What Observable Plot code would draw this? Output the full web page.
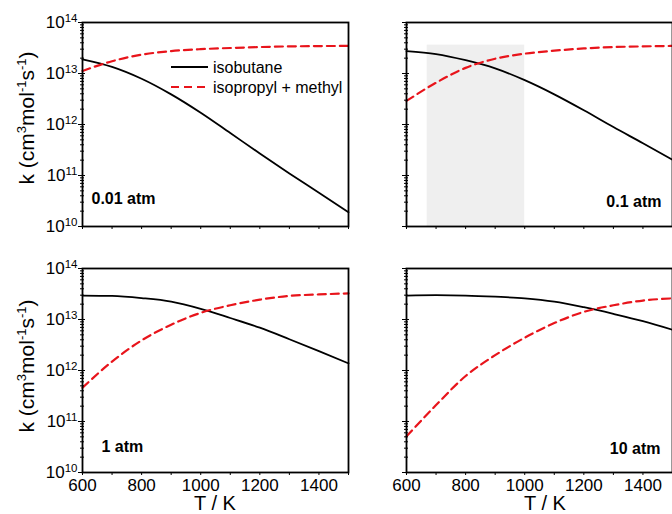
<!DOCTYPE html>
<html>
<head>
<meta charset="utf-8">
<script src="https://cdn.jsdelivr.net/npm/d3@7"></script>
<script src="https://cdn.jsdelivr.net/npm/@observablehq/plot@0.6"></script>
<style>
  html, body { margin: 0; padding: 0; background: #fff; overflow: hidden; }
  #wrap { position: relative; width: 672px; height: 514px; overflow: hidden; background: #fff;
          font-family: "Liberation Sans", Arial, sans-serif; }
  #wrap > .panel { position: absolute; }
  #overlay { position: absolute; left: 0; top: 0; pointer-events: none; }
</style>
</head>
<body>
<div id="wrap"></div>
<script>
// ---- data ----
const temps = [600, 700, 800, 900, 1000, 1100, 1200, 1300, 1400, 1500];

const isobutane_001 = [1.9e13, 1.35e13, 7.9e12, 3.9e12, 1.7e12, 6.8e11, 2.7e11, 1.1e11, 4.6e10, 1.9e10];
const isopropyl_001 = [1.12e13, 1.74e13, 2.34e13, 2.75e13, 3.0e13, 3.16e13, 3.3e13, 3.4e13, 3.45e13, 3.47e13];

const isobutane_01 = [2.75e13, 2.4e13, 1.82e13, 1.26e13, 7.4e12, 3.9e12, 1.9e12, 8.9e11, 4.3e11, 2.04e11];
const isopropyl_01 = [2.9e12, 6.6e12, 1.29e13, 1.95e13, 2.45e13, 2.8e13, 3.1e13, 3.3e13, 3.4e13, 3.47e13];

const isobutane_1 = [2.95e13, 2.9e13, 2.63e13, 2.24e13, 1.62e13, 1.07e13, 6.9e12, 4.1e12, 2.4e12, 1.38e12];
const isopropyl_1 = [4.6e11, 1.5e12, 3.9e12, 7.9e12, 1.35e13, 1.9e13, 2.45e13, 2.9e13, 3.1e13, 3.25e13];

const isobutane_10 = [2.95e13, 3.0e13, 2.95e13, 2.8e13, 2.6e13, 2.24e13, 1.74e13, 1.29e13, 9.3e12, 6.3e12];
const isopropyl_10 = [5.1e10, 2.1e11, 7.8e11, 2.0e12, 4.4e12, 8.5e12, 1.41e13, 1.9e13, 2.35e13, 2.6e13];

const bandRange = [670, 1000];     // shaded temperature window (0.1 atm panel)
const bandTop = 3.6e13;

const pressureLabels = ["0.01 atm", "0.1 atm", "1 atm", "10 atm"];
const seriesNames = ["isobutane", "isopropyl + methyl"];

const xDomain = [600, 1500];
const yDomain = [1e10, 1e14];
const xTicks = d3.range(600, 1501, 100);
const xTickLabels = [600, 800, 1000, 1200, 1400];
const yMajor = [1e10, 1e11, 1e12, 1e13, 1e14];
const yMinor = d3.range(10, 14).flatMap(e => d3.range(2, 10).map(m => m * Math.pow(10, e)));

const RED = "#e8141b";
const FONT = "'Liberation Sans', Arial, sans-serif";

function panel({iso, ipr, label, right, bottom, band}) {
  const rows = temps.map((t, i) => ({t, iso: iso[i], ipr: ipr[i]}));
  const marks = [];
  if (band) {
    marks.push(Plot.rectY([{x1: band[0], x2: band[1], top: bandTop}],
      {x1: "x1", x2: "x2", y1: yDomain[0], y2: "top", fill: "#efefef"}));
  }
  marks.push(
    Plot.line(rows, {x: "t", y: "iso", stroke: "#000", strokeWidth: 1.8, curve: "monotone-x"}),
    Plot.line(rows, {x: "t", y: "ipr", stroke: RED, strokeWidth: 2.2, strokeDasharray: "8,5", curve: "monotone-x"}),
    Plot.axisX({ticks: xTicks, tickSize: 3, tickPadding: 3, label: null,
      tickFormat: d => (bottom && xTickLabels.includes(d)) ? String(d) : ""}),
    Plot.axisY({ticks: yMajor, tickSize: 4, tickPadding: 1, label: null,
      tickFormat: d => right ? "" : `10^${Math.round(Math.log10(d))}`}),
    Plot.axisY({ticks: yMajor, tickSize: -3, label: null, tickFormat: () => ""}),
    Plot.axisY({ticks: yMinor, tickSize: 2, label: null, tickFormat: () => ""}),
    Plot.axisY({ticks: yMinor, tickSize: -2, label: null, tickFormat: () => ""}),
    Plot.frame({stroke: "#000", strokeWidth: 1.8}),
    Plot.text([label.text], {
      frameAnchor: right ? "bottom-right" : "bottom-left",
      textAnchor: right ? "end" : "start",
      dx: label.dx, dy: label.dy,
      fontSize: 16, fontWeight: "bold", fill: "#000"
    })
  );
  const svg = Plot.plot({
    width: 352,
    height: bottom ? 270 : 250,
    marginLeft: 82, marginRight: 4, marginTop: 22, marginBottom: bottom ? 44 : 24,
    x: {domain: xDomain, label: null},
    y: {type: "log", domain: yDomain, label: null},
    style: {fontFamily: FONT, fontSize: "17px", background: "transparent", color: "#000", overflow: "visible"},
    marks
  });
  // superscript exponents on y tick labels
  svg.querySelectorAll('g[aria-label="y-axis tick label"] text').forEach(t => {
    const s = t.textContent;
    const m = s.match(/^10\^(\d+)$/);
    if (m) {
      t.textContent = "10";
      const ts = document.createElementNS("http://www.w3.org/2000/svg", "tspan");
      ts.setAttribute("dy", "-0.5em");
      ts.setAttribute("font-size", "11.5px");
      ts.textContent = m[1];
      t.appendChild(ts);
    }
  });
  return svg;
}

const wrap = document.getElementById("wrap");
const specs = [
  {iso: isobutane_001, ipr: isopropyl_001, label: {text: pressureLabels[0], dx: 9, dy: -23}, right: false, bottom: false, left: 0, top: 0},
  {iso: isobutane_01, ipr: isopropyl_01, label: {text: pressureLabels[1], dx: -11, dy: -20}, right: true, bottom: false, left: 324, top: 0, band: bandRange},
  {iso: isobutane_1, ipr: isopropyl_1, label: {text: pressureLabels[2], dx: 19, dy: -21}, right: false, bottom: true, left: 0, top: 246},
  {iso: isobutane_10, ipr: isopropyl_10, label: {text: pressureLabels[3], dx: -12, dy: -19}, right: true, bottom: true, left: 324, top: 246}
];
for (const s of specs) {
  const el = panel(s);
  el.classList.add("panel");
  el.style.left = s.left + "px";
  el.style.top = s.top + "px";
  wrap.appendChild(el);
}

// ---- titles and legend overlay ----
const ov = d3.select(wrap).append("svg")
  .attr("id", "overlay").attr("width", 672).attr("height", 514)
  .style("font-family", FONT);

function yTitle(cx, cy) {
  const t = ov.append("text")
    .attr("transform", `translate(${cx},${cy}) rotate(-90)`)
    .attr("text-anchor", "middle").attr("font-size", 21).attr("fill", "#000");
  const parts = [["k (cm", 0], ["3", -8], ["mol", 8], ["-1", -8], ["s", 8], ["-1", -8], [")", 8]];
  parts.forEach(([txt, dy], i) => {
    const ts = t.append("tspan").text(txt);
    if (i > 0) ts.attr("dy", dy);
    if (dy < 0) ts.attr("font-size", 13);
  });
}
yTitle(34, 118);
yTitle(34, 366);

ov.append("text").attr("x", 215).attr("y", 510).attr("text-anchor", "middle")
  .attr("font-size", 20).attr("fill", "#000").text("T / K");
ov.append("text").attr("x", 545).attr("y", 510).attr("text-anchor", "middle")
  .attr("font-size", 20).attr("fill", "#000").text("T / K");

// legend
const leg = ov.append("g");
leg.append("line").attr("x1", 171).attr("x2", 208).attr("y1", 67).attr("y2", 67)
  .attr("stroke", "#000").attr("stroke-width", 1.8);
leg.append("line").attr("x1", 171).attr("x2", 208).attr("y1", 87).attr("y2", 87)
  .attr("stroke", RED).attr("stroke-width", 2.2).attr("stroke-dasharray", "8,5");
leg.append("text").attr("x", 213).attr("y", 72.5).attr("font-size", 16).attr("fill", "#000").text(seriesNames[0]);
leg.append("text").attr("x", 213).attr("y", 92.5).attr("font-size", 16).attr("fill", "#000").text(seriesNames[1]);
</script>
</body>
</html>
